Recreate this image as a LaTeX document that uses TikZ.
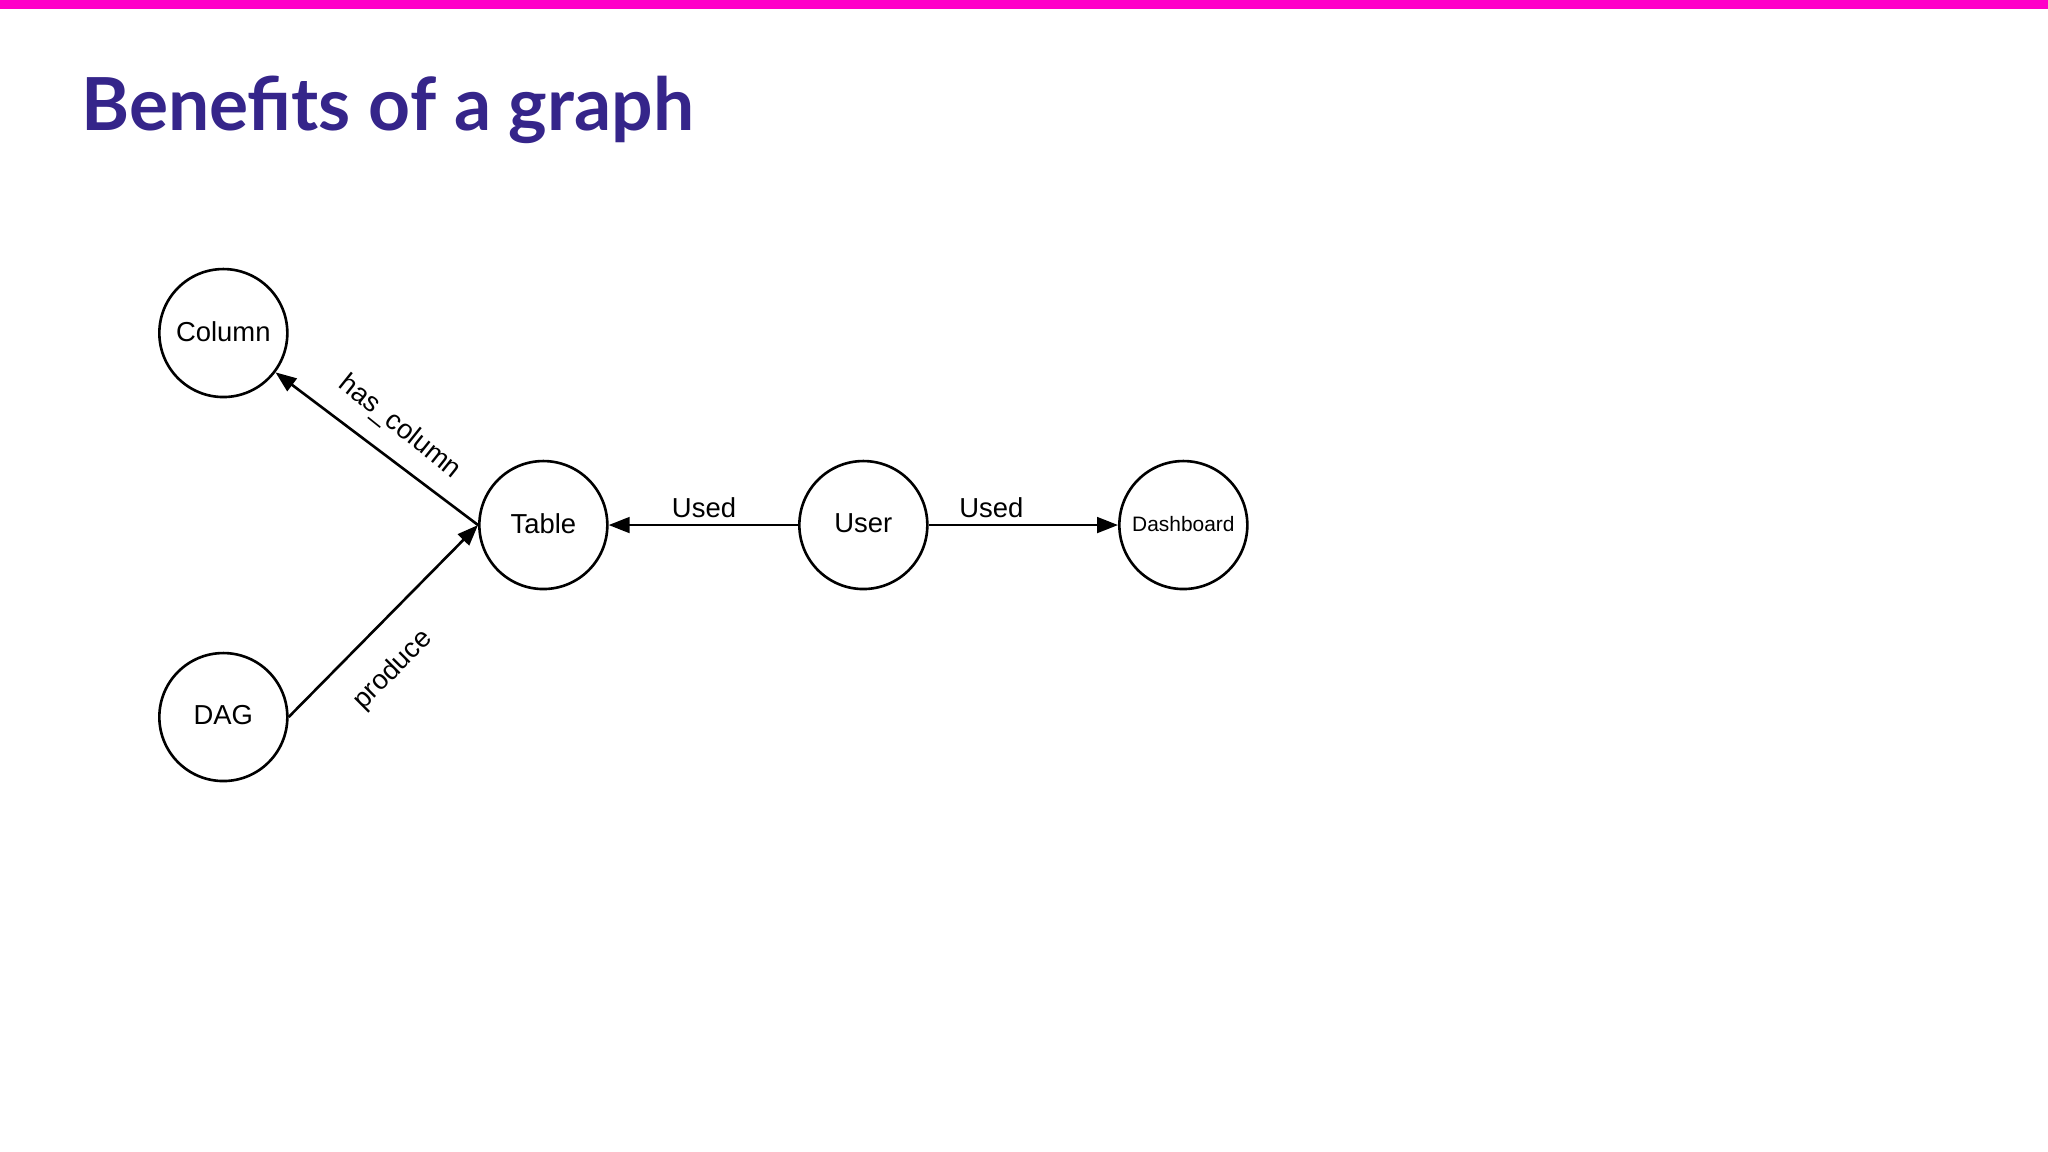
\documentclass[tikz,border=0pt]{standalone}
\usepackage{fontspec}
\setmainfont{Liberation Sans}
\newfontfamily\titlefont{Lato}
\usetikzlibrary{arrows.meta}
\definecolor{barmag}{HTML}{FF00C8}
\definecolor{titlepurple}{HTML}{35258A}
\tikzset{
  ent/.style={circle,draw,line width=2pt,minimum size=98pt,inner sep=0pt,font=\fontsize{21}{24}\selectfont},
  rel/.style={line width=2pt,-{Triangle[length=16pt,width=12pt]}},
  lbl/.style={font=\fontsize{21}{24}\selectfont,inner sep=0pt}
}
\begin{document}
\begin{tikzpicture}[x=1pt,y=1pt]
\useasboundingbox (0,0) rectangle (1568,882);
\fill[white] (0,0) rectangle (1568,882);
\fill[barmag] (0,875) rectangle (1568,882);
\node[anchor=base west,inner sep=0pt,text=titlepurple,font=\titlefont\bfseries\fontsize{56}{62}\selectfont] (title) at (62,782) {Benefits of a graph};
\node[ent] (C) at (171,627) {\raisebox{3pt}{Column}};
\node[ent] (T) at (416,480) {\raisebox{3pt}{Table}};
\node[ent] (U) at (661,480) {\raisebox{3pt}{User}};
\node[ent,font=\fontsize{16}{18}\selectfont] (D) at (906,480) {\raisebox{2pt}{Dashboard}};
\node[ent] (G) at (171,333) {\raisebox{3pt}{DAG}};
\draw[rel] (T.west) -- (C);
\draw[rel] (G.east) -- (T.west);
\draw[rel] (U) -- (T);
\draw[rel] (U) -- (D);
\node[lbl] (l1) at (539,493) {Used};
\node[lbl] (l2) at (759,493) {Used};
\node[lbl,rotate=-38.7] (l3) at (306,555) {has\_column};
\node[lbl,rotate=45] (l4) at (301,369) {produce};
\end{tikzpicture}
\end{document}
